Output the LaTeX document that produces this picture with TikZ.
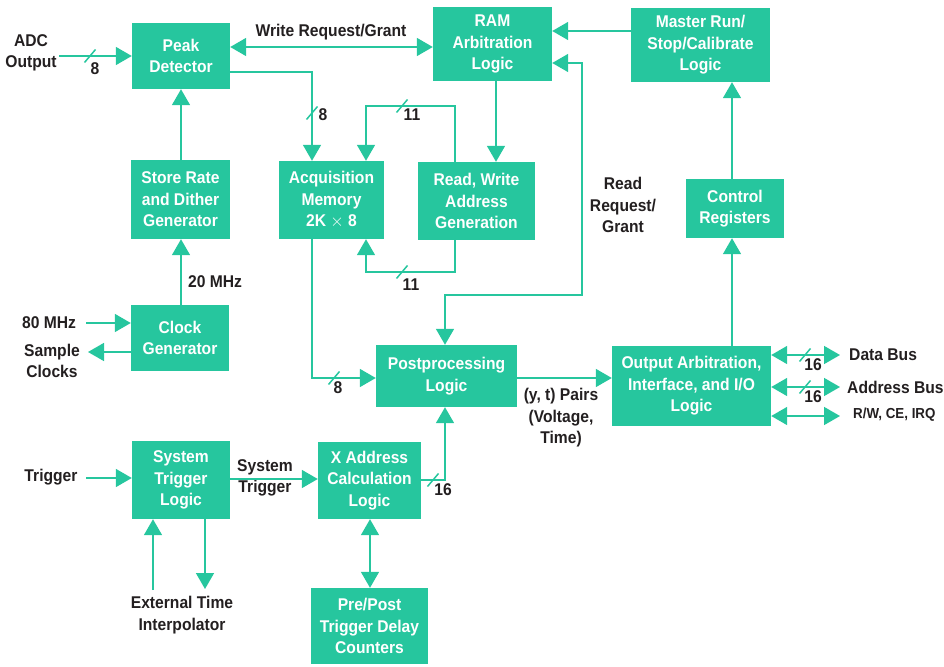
\documentclass[tikz,border=0pt]{standalone}
\usepackage{fontspec}
\setmainfont[FakeStretch=0.92]{Liberation Sans}
\usetikzlibrary{arrows.meta}
\definecolor{hpgreen}{RGB}{38,198,158}
\definecolor{labelink}{RGB}{35,31,32}
\tikzset{
  blk/.style={fill=hpgreen, draw=none, text=white, align=center, inner sep=0pt,
    font=\fontsize{17}{21.5}\selectfont\bfseries},
  lbl/.style={text=labelink, align=center, inner sep=0pt,
    font=\fontsize{17}{21.5}\selectfont\bfseries},
  wire/.style={draw=hpgreen, line width=1.6pt},
  arr/.style={wire, -{Triangle[length=16pt,width=18pt]}},
  dbl/.style={wire, {Triangle[length=16pt,width=18pt]}-{Triangle[length=16pt,width=18pt]}},
  pics/busslash/.style={code={\draw[draw=hpgreen, line width=1.5pt] (-5.5,6.5) -- (5.5,-6.5);}}
}
\begin{document}
\begin{tikzpicture}[x=1pt,y=-1pt]
\useasboundingbox (0,0) rectangle (944,666);

% function blocks
\node[blk, minimum width=98pt, minimum height=66pt] (peak) at (181,56) {Peak\\Detector};
\node[blk, minimum width=119pt, minimum height=74pt] (ram) at (492.5,44) {RAM\\Arbitration\\Logic};
\node[blk, minimum width=139pt, minimum height=74pt] (master) at (700.5,45) {Master Run/\\Stop/Calibrate\\Logic};
\node[blk, minimum width=99pt, minimum height=79pt] (store) at (180.5,199.5) {Store Rate\\and Dither\\Generator};
\node[blk, minimum width=105pt, minimum height=78pt] (acq) at (331.5,200) {Acquisition\\Memory\\2K $\times$ 8};
\node[blk, minimum width=117pt, minimum height=78pt] (rwag) at (476.5,201) {Read, Write\\Address\\Generation};
\node[blk, minimum width=98pt, minimum height=59pt] (ctrl) at (735,208.5) {Control\\Registers};
\node[blk, minimum width=98pt, minimum height=66pt] (clock) at (180,338) {Clock\\Generator};
\node[blk, minimum width=141pt, minimum height=62pt] (post) at (446.5,376) {Postprocessing\\Logic};
\node[blk, minimum width=159pt, minimum height=80pt] (out) at (691.5,386) {Output Arbitration,\\Interface, and I/O\\Logic};
\node[blk, minimum width=98pt, minimum height=78pt] (stl) at (181,480) {System\\Trigger\\Logic};
\node[blk, minimum width=103pt, minimum height=77pt] (xaddr) at (369.5,480.5) {X Address\\Calculation\\Logic};
\node[blk, minimum width=117pt, minimum height=76pt] (prepost) at (369.5,626) {Pre/Post\\Trigger Delay\\Counters};

% external signal names
\node[lbl] (adc) at (31,53) {ADC\\Output};
\node[lbl] (wrg) at (331,32) {Write Request/Grant};
\node[lbl] (rrg) at (623,205) {Read\\Request/\\Grant};
\node[lbl] (f20) at (215,282) {20 MHz};
\node[lbl] (f80) at (49,323) {80 MHz};
\node[lbl] (smp) at (52,361) {Sample\\Clocks};
\node[lbl] (trg) at (51,477) {Trigger};
\node[lbl] (systrg) at (265,478) {System\\Trigger};
\node[lbl] (eti) at (182,615) {External Time\\Interpolator};
\node[lbl] (pairs) at (561,418) {(y, t) Pairs\\(Voltage,\\Time)};
\node[lbl, anchor=west] (dbus) at (849,355) {Data Bus};
\node[lbl, anchor=west] (abus) at (847,387) {Address Bus};
\node[lbl, anchor=west, font=\fontsize{14.5}{17}\selectfont\bfseries] (ctl) at (853,415) {R/W, CE, IRQ};

% bus widths
\node[lbl] (w1) at (95,69) {8};
\node[lbl] (w2) at (323,115) {8};
\node[lbl] (w3) at (412,115) {11};
\node[lbl] (w4) at (411,285) {11};
\node[lbl] (w5) at (338,388) {8};
\node[lbl] (w6) at (443,490) {16};
\node[lbl] (w7) at (813,365) {16};
\node[lbl] (w8) at (813,397) {16};

% free wire ends
\coordinate (adcin) at (59,56);
\coordinate (in80) at (86,323);
\coordinate (smpout) at (88,352);
\coordinate (trgin) at (86,478);
\coordinate (etiin) at (153,590);
\coordinate (etiout) at (205,589);
\coordinate (dbusend) at (840,355);
\coordinate (abusend) at (840,387);
\coordinate (ctlend) at (840,416);

% acquisition path
\draw[arr] (adcin) -- (peak.west |- adcin);
\pic at (90,56) {busslash};
\draw[dbl] (peak.east |- 0,47) -- (ram.west |- 0,47);
\draw[arr] (peak.east |- 0,72) -| (acq.north -| 312,0);
\pic at (312,113) {busslash};
\draw[arr] (rwag.north -| 455,0) |- (366,106) -- (acq.north -| 366,0);
\pic at (402,106) {busslash};
\draw[arr] (rwag.south -| 455,0) |- (366,272) -- (acq.south -| 366,0);
\pic at (402,272) {busslash};
\draw[arr] (ram.south -| 496,0) -- (rwag.north -| 496,0);
\draw[arr] (master.west |- 0,31) -- (ram.east |- 0,31);
\draw[dbl] (ram.east |- 0,63) -- (582,63) -- (582,295) -| (post.north -| 445,0);
\draw[arr] (ctrl.north -| 732,0) -- (master.south -| 732,0);
\draw[arr] (out.north -| 732,0) -- (ctrl.south -| 732,0);

% clocking
\draw[arr] (store.north -| 181,0) -- (peak.south -| 181,0);
\draw[arr] (clock.north -| 181,0) -- (store.south -| 181,0);
\draw[arr] (in80) -- (clock.west |- in80);
\draw[arr] (clock.west |- smpout) -- (smpout);

% readout path
\draw[arr] (acq.south -| 312,0) |- (post.west |- 0,378);
\pic at (334,378) {busslash};
\draw[arr] (post.east |- 0,378) -- (out.west |- 0,378);
\draw[dbl] (out.east |- dbusend) -- (dbusend);
\pic at (805,355) {busslash};
\draw[dbl] (out.east |- abusend) -- (abusend);
\pic at (805,387) {busslash};
\draw[dbl] (out.east |- ctlend) -- (ctlend);

% triggering
\draw[arr] (trgin) -- (stl.west |- trgin);
\draw[arr] (stl.east |- 0,479) -- (xaddr.west |- 0,479);
\draw[arr] (etiin) -- (stl.south -| etiin);
\draw[arr] (stl.south -| etiout) -- (etiout);
\draw[arr] (xaddr.east |- 0,480) -| (post.south -| 445,0);
\pic at (433,480) {busslash};
\draw[dbl] (xaddr.south -| 370,0) -- (prepost.north -| 370,0);
\end{tikzpicture}
\end{document}
